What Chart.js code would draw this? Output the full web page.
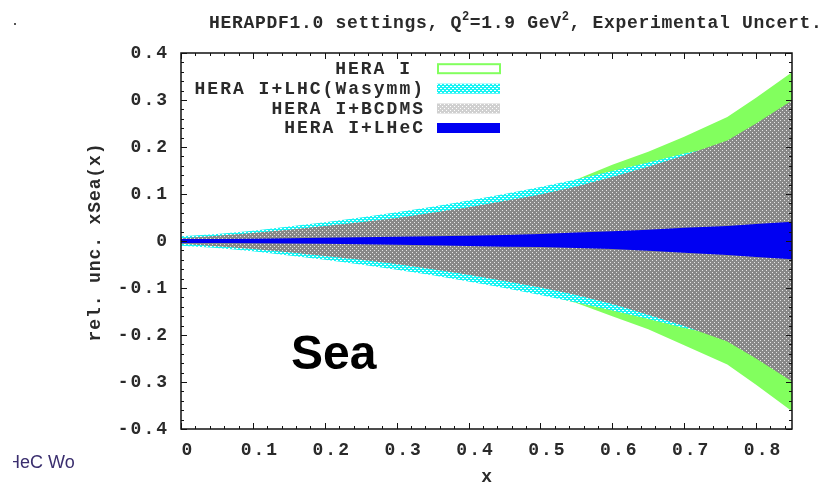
<!DOCTYPE html>
<html>
<head>
<meta charset="utf-8">
<script src="https://cdn.jsdelivr.net/npm/chart.js@4.4.1/dist/chart.umd.min.js"></script>
<style>
html,body{margin:0;padding:0;background:#fff;}
canvas{display:block;}
</style>
</head>
<body>
<canvas id="c" width="832" height="488"></canvas>
<script>
// ---- data ----
const xs = [0, 0.05, 0.1, 0.15, 0.2, 0.25, 0.3, 0.35, 0.4, 0.45, 0.5, 0.55, 0.6, 0.65, 0.7, 0.76, 0.8, 0.85];

const heraUp  = [0.008,0.013,0.020,0.028,0.037,0.046,0.057,0.069,0.082,0.096,0.111,0.131,0.162,0.190,0.222,0.264,0.305,0.359];
const heraLo  = [-0.008,-0.013,-0.020,-0.028,-0.037,-0.046,-0.057,-0.069,-0.082,-0.096,-0.111,-0.132,-0.160,-0.188,-0.222,-0.263,-0.306,-0.362];
const lhcUp   = [0.010,0.015,0.022,0.031,0.040,0.050,0.061,0.073,0.086,0.100,0.115,0.131,0.149,0.167,0.186,0.205,0.225,0.260];
const lhcLo   = [-0.010,-0.015,-0.022,-0.031,-0.040,-0.050,-0.061,-0.073,-0.086,-0.100,-0.115,-0.131,-0.148,-0.166,-0.185,-0.204,-0.224,-0.260];
const bcdmsUp = [0.006,0.011,0.017,0.024,0.032,0.040,0.049,0.060,0.072,0.085,0.099,0.116,0.136,0.158,0.182,0.214,0.250,0.299];
const bcdmsLo = [-0.006,-0.011,-0.017,-0.024,-0.032,-0.040,-0.049,-0.060,-0.072,-0.085,-0.099,-0.115,-0.134,-0.157,-0.181,-0.214,-0.250,-0.299];
const lhecUp  = [0.004,0.0045,0.005,0.006,0.007,0.008,0.009,0.010,0.011,0.013,0.015,0.018,0.021,0.024,0.028,0.032,0.036,0.041];
const lhecLo  = [-0.004,-0.0045,-0.005,-0.0055,-0.006,-0.007,-0.008,-0.009,-0.0105,-0.012,-0.013,-0.015,-0.017,-0.021,-0.025,-0.030,-0.034,-0.039];

const seriesNames = ['HERA I', 'HERA I+LHC(Wasymm)', 'HERA I+BCDMS', 'HERA I+LHeC'];

const xTicks = [0, 0.1, 0.2, 0.3, 0.4, 0.5, 0.6, 0.7, 0.8];
const xTickLabels = ['0', '0.1', '0.2', '0.3', '0.4', '0.5', '0.6', '0.7', '0.8'];
const yTicks = [-0.4, -0.3, -0.2, -0.1, 0, 0.1, 0.2, 0.3, 0.4];
const yTickLabels = ['-0.4', '-0.3', '-0.2', '-0.1', '0', '0.1', '0.2', '0.3', '0.4'];

const titleParts = [['HERAPDF1.0 settings, Q', false], ['2', true], ['=1.9 GeV', false], ['2', true], [', Experimental Uncert.', false]];
const yTitle = 'rel. unc. xSea(x)';
const xTitle = 'x';

// ---- patterns ----
function makePattern(base, dot, dots) {
  const c = document.createElement('canvas');
  c.width = 4; c.height = 4;
  const g = c.getContext('2d');
  g.fillStyle = base; g.fillRect(0, 0, 4, 4);
  g.fillStyle = dot;
  dots.forEach(p => g.fillRect(p[0], p[1], 1, 1));
  return g.createPattern(c, 'repeat');
}
const cyanPat = makePattern('#18f4f4', '#ffffff', [[0,0],[2,2],[1,0],[3,2]]);
const grayPat = makePattern('#888888', '#e6e6e6', [[0,0],[2,2]]);
const grayLegendPat = makePattern('#d0d0d0', '#ffffff', [[0,0],[2,2]]);
const green = '#82ff5e';
const blue = '#0000f2';

function pts(arr) { return xs.map((x, i) => ({x: x, y: arr[i]})); }
function band(label, up, lo, bg) {
  return [
    {label: label, data: pts(up), fill: '+1', backgroundColor: bg, borderColor: 'rgba(0,0,0,0)', borderWidth: 0, pointRadius: 0, tension: 0},
    {label: label + ' lo', data: pts(lo), fill: false, backgroundColor: bg, borderColor: 'rgba(0,0,0,0)', borderWidth: 0, pointRadius: 0, tension: 0}
  ];
}
// first dataset is drawn on top
const datasets = [].concat(
  band(seriesNames[3], lhecUp, lhecLo, blue),
  band(seriesNames[2], bcdmsUp, bcdmsLo, grayPat),
  band(seriesNames[1], lhcUp, lhcLo, cyanPat),
  band(seriesNames[0], heraUp, heraLo, green)
);

const MONO = '"Liberation Mono", "DejaVu Sans Mono", monospace';

const decor = {
  id: 'decor',
  beforeLayout(chart) { chart.ctx.letterSpacing = '2px'; },
  beforeDraw(chart) {
    const c = chart.ctx;
    c.save();
    c.letterSpacing = '0px';
    c.fillStyle = '#fff';
    c.fillRect(0, 0, chart.width, chart.height);
    c.restore();
    c.letterSpacing = '2px';
  },
  afterDraw(chart) {
    const c = chart.ctx;
    const a = chart.chartArea;
    const xs_ = chart.scales.x, ys_ = chart.scales.y;
    c.save();
    // frame
    c.strokeStyle = '#111';
    c.lineWidth = 1.5;
    c.strokeRect(a.left, a.top, a.right - a.left, a.bottom - a.top);
    // inward ticks
    c.lineWidth = 1;
    c.beginPath();
    for (let i = 0; i <= 42; i++) {
      const v = i * 0.02;
      const px = Math.round(xs_.getPixelForValue(v)) + 0.5;
      const len = (i % 5 === 0) ? 6 : 3;
      c.moveTo(px, a.bottom); c.lineTo(px, a.bottom - len);
      c.moveTo(px, a.top); c.lineTo(px, a.top + len);
    }
    for (let i = -20; i <= 20; i++) {
      const v = i * 0.02;
      const py = Math.round(ys_.getPixelForValue(v)) + 0.5;
      const len = (i % 5 === 0) ? 6 : 3;
      c.moveTo(a.left, py); c.lineTo(a.left + len, py);
      c.moveTo(a.right, py); c.lineTo(a.right - len, py);
    }
    c.stroke();

    // legend
    c.font = 'bold 18px ' + MONO;
    c.letterSpacing = '2px';
    c.textAlign = 'right';
    c.textBaseline = 'middle';
    const ly = [69, 89, 109.5, 128.5];
    const rightX = [412, 425, 425, 425];
    const by = [68.7, 88.7, 108.5, 128];
    seriesNames.forEach((n, i) => {
      c.fillStyle = '#2a2a2a';
      c.fillText(n, rightX[i], ly[i]);
    });
    // samples
    c.strokeStyle = green; c.lineWidth = 2;
    c.strokeRect(438, by[0] - 4.5, 62, 9);
    c.fillStyle = cyanPat; c.fillRect(437, by[1] - 5, 63, 10);
    c.fillStyle = grayLegendPat; c.fillRect(437, by[2] - 5, 63, 10);
    c.fillStyle = blue; c.fillRect(437, by[3] - 5, 63, 10);

    // title
    c.textAlign = 'left';
    c.textBaseline = 'alphabetic';
    c.fillStyle = '#2a2a2a';
    let tx = 209;
    const tyBase = 28;
    titleParts.forEach(p => {
      if (p[1]) {
        c.font = 'bold 12px ' + MONO; c.letterSpacing = '0.5px';
        c.fillText(p[0], tx, tyBase - 8);
      } else {
        c.font = 'bold 18px ' + MONO; c.letterSpacing = '0.7px';
        c.fillText(p[0], tx, tyBase);
      }
      tx += c.measureText(p[0]).width;
    });

    // axis titles
    c.font = 'bold 18px ' + MONO; c.letterSpacing = '0.9px';
    c.textAlign = 'center'; c.textBaseline = 'middle';
    c.save();
    c.translate(95, 242);
    c.rotate(-Math.PI / 2);
    c.fillText(yTitle, 0, 0);
    c.restore();
    c.fillText(xTitle, 487, 477);

    // big "Sea" label
    c.letterSpacing = '0px';
    c.fillStyle = '#000';
    c.font = 'bold 48px "Liberation Sans", Arial, sans-serif';
    c.textAlign = 'left'; c.textBaseline = 'alphabetic';
    c.fillText('Sea', 291, 369);

    // stray dot top-left
    c.fillStyle = '#555';
    c.fillRect(14, 23, 2, 2);

    // cut-off text bottom-left
    c.save();
    c.beginPath(); c.rect(13, 440, 100, 40); c.clip();
    c.fillStyle = '#3a2e6e';
    c.font = '18px "Liberation Sans", Arial, sans-serif';
    c.textBaseline = 'middle';
    c.fillText('HeC Wo', 7, 463);
    c.restore();

    c.restore();
    c.letterSpacing = '2px';
  }
};

new Chart(document.getElementById('c'), {
  type: 'line',
  data: {datasets: datasets},
  plugins: [decor],
  options: {
    responsive: false,
    devicePixelRatio: 1,
    animation: false,
    layout: {padding: {left: 0, right: 40, top: 53, bottom: 0}},
    plugins: {legend: {display: false}, title: {display: false}, tooltip: {enabled: false}},
    elements: {line: {borderWidth: 0}},
    scales: {
      x: {
        type: 'linear', min: 0, max: 0.85,
        afterBuildTicks(s) { s.ticks = xTicks.map(v => ({value: v})); },
        afterFit(s) { s.height = 59; },
        grid: {display: false, drawTicks: false},
        border: {display: false},
        ticks: {
          callback: (v, i) => xTickLabels[i],
          font: {family: MONO, size: 18, weight: 'bold'},
          color: '#2a2a2a', padding: 11, labelOffset: 7, maxRotation: 0, autoSkip: false
        }
      },
      y: {
        type: 'linear', min: -0.4, max: 0.4,
        afterBuildTicks(s) { s.ticks = yTicks.map(v => ({value: v})); },
        afterFit(s) { s.width = 181; },
        grid: {display: false, drawTicks: false},
        border: {display: false},
        ticks: {
          callback: (v, i) => yTickLabels[i],
          font: {family: MONO, size: 18, weight: 'bold'},
          color: '#2a2a2a', padding: 12, autoSkip: false
        }
      }
    }
  }
});
</script>
</body>
</html>
